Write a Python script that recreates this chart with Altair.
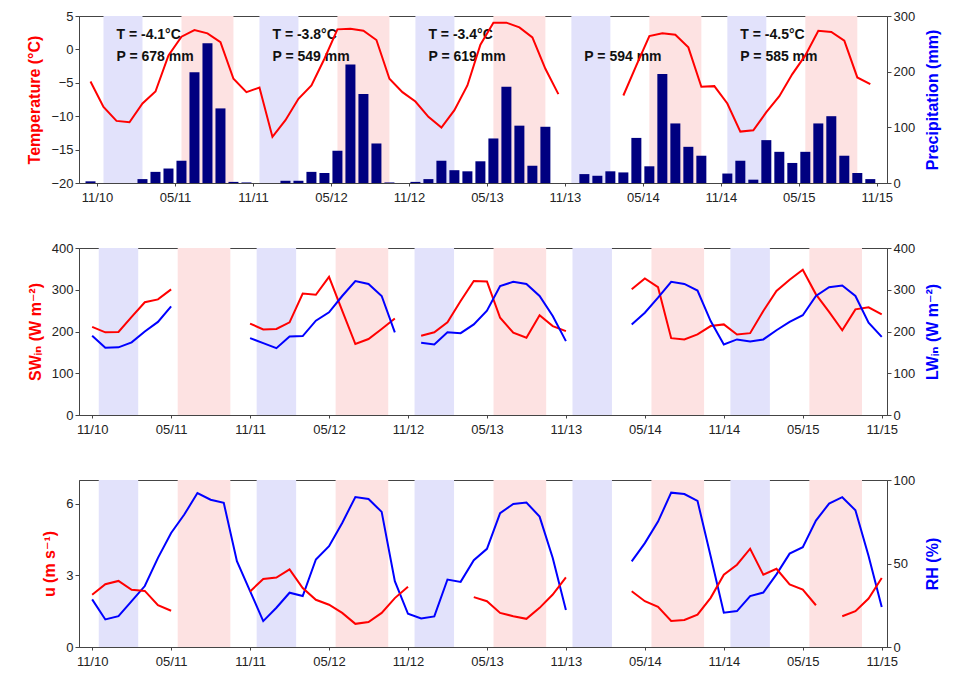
import altair as alt
import pandas as pd

# ---------------- data ----------------
tick_labels = ["11/10", "05/11", "11/11", "05/12", "11/12", "05/13",
               "11/13", "05/14", "11/14", "05/15", "11/15"]

# Panel 1: monthly values, Oct 2010 .. Oct 2015 (mid-month positions)
temperature = [-4.8, -8.6, -10.7, -10.9, -8.1, -6.3, -0.9, 1.9, 2.9, 2.4, 1.1, -4.4,
               -6.4, -5.7, -13.1, -10.6, -7.4, -5.4, -1.4, 3.0, 3.1, 2.8, 1.4, -4.4,
               -6.4, -7.8, -10.1, -11.7, -9.1, -5.4, 0.7, 4.0, 4.0, 3.3, 1.8, -2.9,
               -6.7, None, None, None, None, -6.9, -2.4, 2.0, 2.4, 2.2, 0.3, -5.6,
               -5.5, -8.1, -12.3, -12.1, -9.4, -7.0, -3.7, -0.9, 2.8, 2.6, 1.3, -4.2,
               -5.2]
precipitation = [3, 0, 0, 0, 7, 20, 26, 40, 199, 251, 134, 2,
                 1, 0, 0, 4, 4, 20, 18, 58, 213, 160, 71, 1,
                 0, 2, 7, 40, 23, 21, 39, 80, 173, 103, 31, 101,
                 0, 0, 16, 13, 21, 19, 81, 30, 196, 107, 65, 49,
                 0, 17, 40, 6, 77, 56, 36, 56, 107, 120, 49, 18,
                 7]

# Panel 2: monthly values, Nov 2010 .. Nov 2015 (month start positions)
sw_in = [211, 198, 199, 235, 270, 277, 301, None, None, None, None, None,
         219, 205, 206, 222, 291, 288, 331, 250, 170, 182, 206, 231,
         None, 190, 198, 222, 273, 321, 320, 233, 197, 185, 239, 213,
         201, None, None, None, None, 301, 327, 306, 184, 181, 193, 213,
         217, 193, 196, 249, 297, 324, 348, 289, 247, 203, 253, 258,
         241]
lw_in = [190, 161, 162, 174, 200, 223, 260, None, None, None, None, None,
         184, 172, 160, 188, 189, 226, 246, 285, 321, 314, 285, 198,
         None, 173, 169, 198, 196, 217, 250, 309, 319, 314, 285, 237,
         177, None, None, None, None, 217, 245, 281, 319, 314, 298, 225,
         169, 181, 176, 181, 203, 223, 239, 285, 306, 310, 285, 221,
         187]

# Panel 3
wind_u = [2.19, 2.63, 2.77, 2.40, 2.35, 1.75, 1.52, None, None, None, None, None,
          2.33, 2.85, 2.91, 3.25, 2.47, 1.98, 1.77, 1.43, 0.97, 1.05, 1.43, 2.05,
          2.53, None, None, None, None, 2.09, 1.92, 1.43, 1.29, 1.18, 1.64, 2.20,
          2.92, None, None, None, None, 2.34, 1.92, 1.68, 1.09, 1.13, 1.36, 2.06,
          3.03, 3.45, 4.12, 3.03, 3.28, 2.62, 2.41, 1.75, None, 1.29, 1.50, 2.03,
          2.89]
rel_hum = [28.5, 16.5, 18.5, 27.5, 36.5, 53.4, 68.3, 79.3, 92.2, 88.2, 86.3, 51.4,
           33.5, 15.5, 23.5, 32.5, 30.5, 52.4, 60.4, 74.3, 89.8, 88.6, 80.9, 39.4,
           19.9, 17.1, 18.3, 40.4, 39.0, 52.0, 58.8, 80.1, 85.7, 86.5, 78.1, 53.3,
           22.1, None, None, None, None, 51.3, 62.2, 75.1, 92.4, 91.6, 87.5, 54.3,
           20.5, 21.5, 30.5, 32.6, 43.5, 55.9, 59.8, 75.7, 85.9, 89.7, 81.9, 54.5,
           23.9]

# seasonal shading (month index, 0 = Nov 2010)
winter_start = [0.5, 12.5, 24.5, 36.5, 48.5]
winter_end = [3.5, 15.5, 27.5, 39.5, 51.5]
summer_start = [6.5, 18.5, 30.5, 42.5, 54.5]
summer_end = [10.5, 22.5, 34.5, 46.5, 58.5]

# annual annotations
ann_T = ["T = -4.1°C", "T = -3.8°C", "T = -3.4°C", "", "T = -4.5°C"]
ann_P = ["P = 678 mm", "P = 549 mm", "P = 619 mm", "P = 594 mm", "P = 585 mm"]

# ---------------- helpers ----------------
RED = "#ff0000"
BLUE = "#0000ff"
NAVY = "#000080"
FONT = "Liberation Sans, Arial, DejaVu Sans, sans-serif"
W, H = 808, 167

months_half = [i - 0.5 for i in range(len(temperature))]
months = list(range(len(sw_in)))


def line_frame(xs, ys, name):
    rows, seg, prev = [], 0, True
    for x, y in zip(xs, ys):
        if y is None:
            if prev:
                seg += 1
            prev = False
            continue
        prev = True
        rows.append({"m": x, name: y, "seg": seg})
    return pd.DataFrame(rows)


label_expr = "[" + ",".join("'%s'" % t for t in tick_labels) + "][round(datum.value / 6)]"
x_axis = alt.Axis(values=[6 * i for i in range(len(tick_labels))], labelExpr=label_expr,
                  title=None, grid=False, tickSize=3, labelPadding=5)
x_scale = alt.Scale(domain=[-1, 60.4], nice=False, zero=False)


def xenc(field="m"):
    return alt.X(field + ":Q", scale=x_scale, axis=x_axis)


bands_w = pd.DataFrame({"s": winter_start, "e": winter_end})
bands_s = pd.DataFrame({"s": summer_start, "e": summer_end})


def bands():
    w = alt.Chart(bands_w).mark_rect(color="#e2e2fb").encode(
        x=alt.X("s:Q", scale=x_scale, axis=x_axis), x2="e:Q")
    s = alt.Chart(bands_s).mark_rect(color="#fde2e2").encode(
        x=alt.X("s:Q", scale=x_scale, axis=x_axis), x2="e:Q")
    return [w, s]


def yaxis(orient, values, title, color):
    if orient == "right":
        return alt.Axis(orient=orient, values=values, title=title, titleColor=color,
                        grid=False, tickSize=4, labelPadding=2, titlePadding=10,
                        titleAngle=270, titleBaseline="top", titleFontSize=16)
    return alt.Axis(orient=orient, values=values, title=title, titleColor=color,
                    grid=False, tickSize=4, labelPadding=2, titlePadding=8,
                    titleAngle=270, titleFontSize=16)


def line(df, field, color, domain, axis):
    return alt.Chart(df).mark_line(color=color, strokeWidth=2).encode(
        x=xenc(),
        y=alt.Y(field + ":Q", scale=alt.Scale(domain=domain, nice=False, zero=False), axis=axis),
        detail="seg:N",
    )


# ---------------- panel 1 ----------------
df_T = line_frame(months_half, temperature, "T")
df_P = pd.DataFrame({"m": months_half, "P": precipitation})
df_P = df_P[df_P["P"] > 0]

bars = alt.Chart(df_P).mark_bar(color=NAVY, size=10).encode(
    x=xenc(),
    y=alt.Y("P:Q", scale=alt.Scale(domain=[0, 300], nice=False),
            axis=yaxis("right", [0, 100, 200, 300], "Precipitation (mm)", BLUE)),
)
t_line = line(df_T, "T", RED, [-20, 5],
              yaxis("left", [-20, -15, -10, -5, 0, 5], "Temperature (°C)", RED))

ann_rows = []
for k in range(len(ann_P)):
    if ann_T[k]:
        ann_rows.append({"m": 12 * k + 1.5, "y": 2.1, "txt": ann_T[k]})
    ann_rows.append({"m": 12 * k + 1.5, "y": -1.1, "txt": ann_P[k]})
df_ann = pd.DataFrame(ann_rows)
ann = alt.Chart(df_ann).mark_text(align="left", baseline="middle", fontSize=14,
                                  fontWeight="bold", font=FONT, color="#111").encode(
    x=xenc(),
    y=alt.Y("y:Q", scale=alt.Scale(domain=[-20, 5], nice=False, zero=False), axis=None),
    text="txt:N",
)

p1 = alt.layer(*bands(), bars, ann, t_line).resolve_scale(y="independent").properties(
    width=W, height=H)

# ---------------- panel 2 ----------------
df_sw = line_frame(months, sw_in, "SW")
df_lw = line_frame(months, lw_in, "LW")
sw_line = line(df_sw, "SW", RED, [0, 400],
               yaxis("left", [0, 100, 200, 300, 400], "SWᵢₙ (W m⁻²)", RED))
lw_line = line(df_lw, "LW", BLUE, [0, 400],
               yaxis("right", [0, 100, 200, 300, 400], "LWᵢₙ (W m⁻²)", BLUE))
p2 = alt.layer(*bands(), sw_line, lw_line).resolve_scale(y="independent").properties(
    width=W, height=H)

# ---------------- panel 3 ----------------
df_u = line_frame(months, wind_u, "u")
df_rh = line_frame(months, rel_hum, "RH")
u_line = line(df_u, "u", RED, [0, 7], yaxis("left", [0, 3, 6], "u (m s⁻¹)", RED))
rh_line = line(df_rh, "RH", BLUE, [0, 100], yaxis("right", [0, 50, 100], "RH (%)", BLUE))
p3 = alt.layer(*bands(), rh_line, u_line).resolve_scale(y="independent").properties(
    width=W, height=H)

chart = alt.vconcat(p1, p2, p3, spacing=65, bounds="flush").properties(
    padding={"left": 18, "top": 1, "right": 5, "bottom": 0}
).configure_axis(
    labelFont=FONT, titleFont=FONT, labelFontSize=13, labelColor="#222",
    titleFontWeight="bold", tickColor="#444", domainColor="#444",
).configure_view(stroke="#444", strokeWidth=1)

chart.save("out.html", embed_options={"renderer": "svg", "actions": False})
